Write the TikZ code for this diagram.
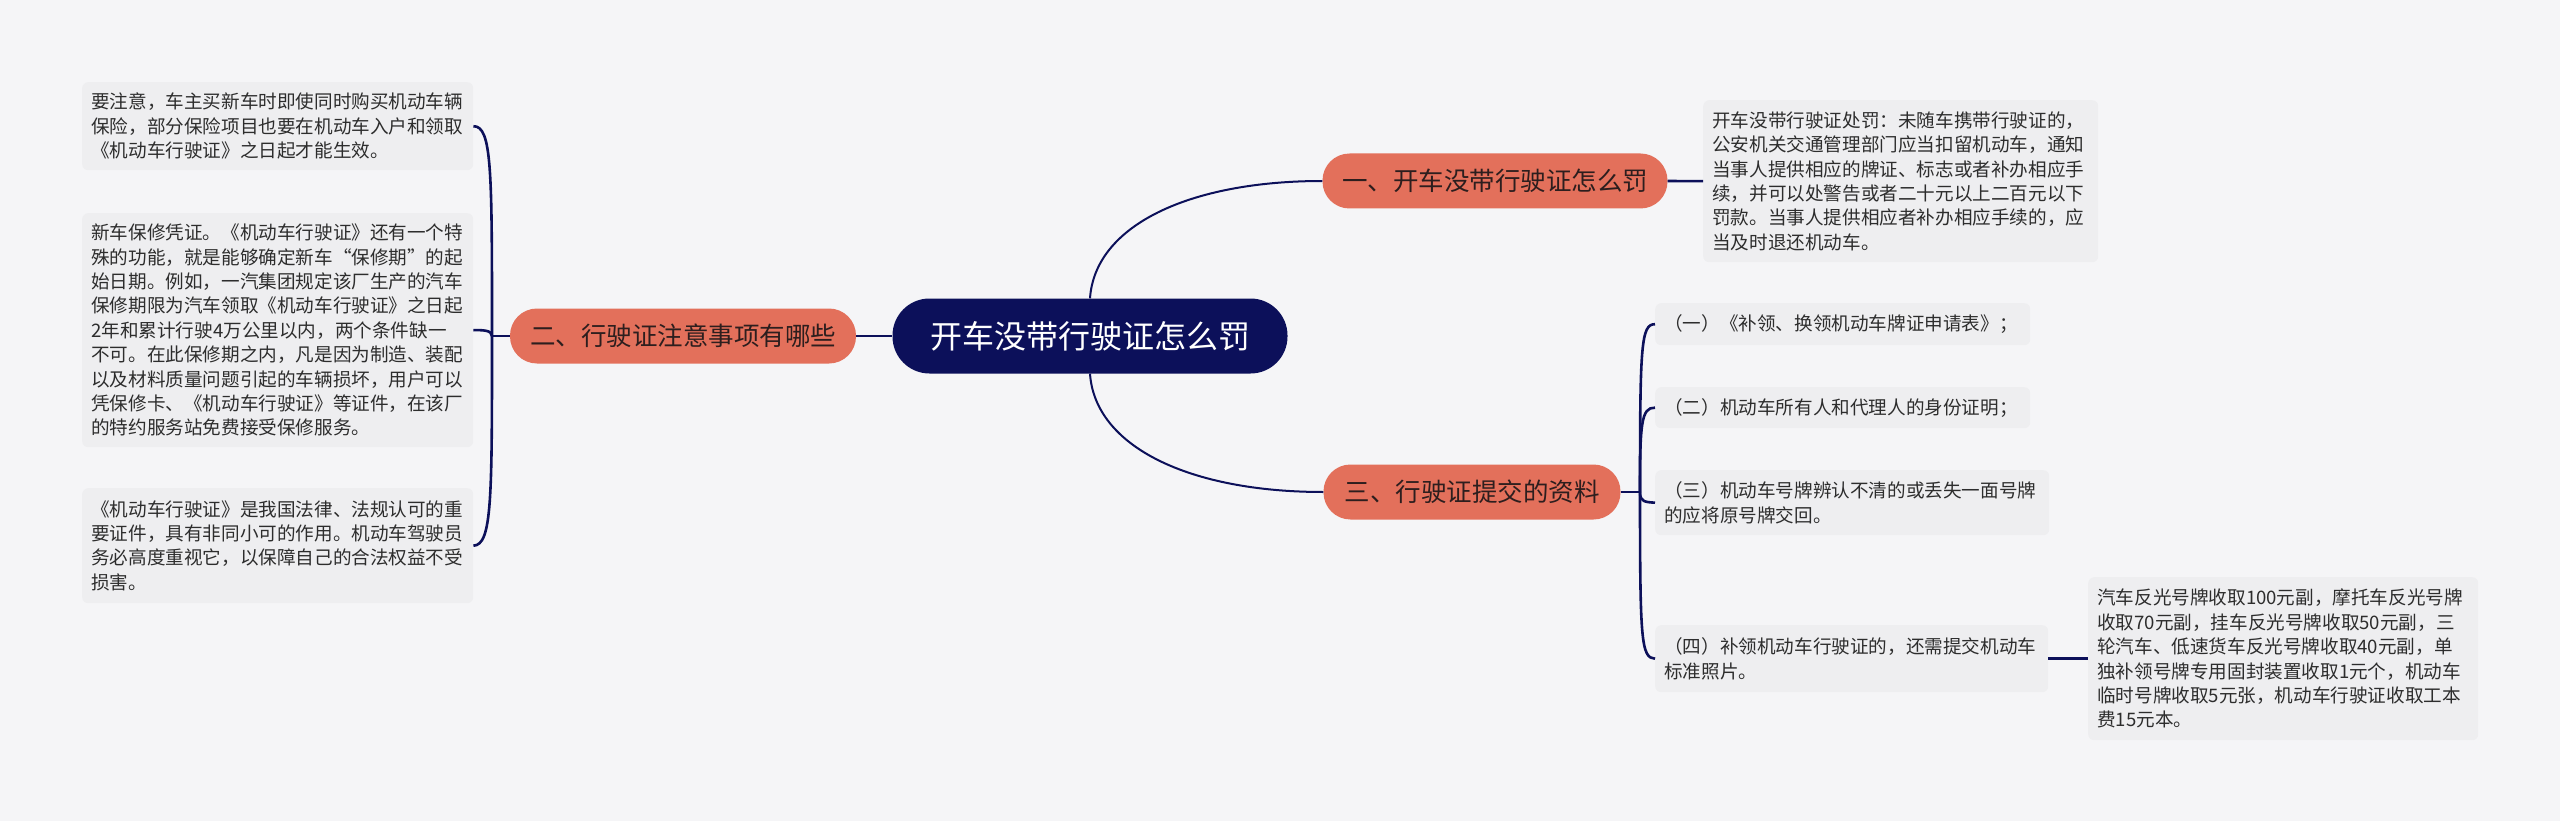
\documentclass[tikz,border=0pt]{standalone}
\usepackage{fontspec}
\setmainfont{Noto Sans CJK SC}
\definecolor{bgc}{RGB}{245,245,247}
\definecolor{leafc}{RGB}{238,238,240}
\definecolor{navy}{RGB}{12,16,90}
\definecolor{orangec}{RGB}{227,112,91}
\definecolor{btext}{RGB}{45,30,30}
\definecolor{ltext}{RGB}{45,45,45}
\tikzset{
  leafbox/.style={anchor=north west, fill=leafc, rounded corners=6pt, inner xsep=9pt, inner ysep=0pt, align=left, text=ltext, font=\fontsize{18.6}{24.4}\selectfont},
  branchbox/.style={fill=orangec, rounded corners=27pt, minimum height=55pt, inner sep=0pt, text=btext, font=\fontsize{25.5}{30}\selectfont},
  conn/.style={draw=navy, line width=2.6pt},
  thinconn/.style={draw=navy, line width=2pt}
}
\begin{document}
\begin{tikzpicture}[x=1pt,y=-1pt]
\useasboundingbox (0,0) rectangle (2560,821);
\fill[bgc] (0,0) rectangle (2560,821);

\coordinate (j2) at (492,336);
\coordinate (j3) at (1640,492);

% root
\node[fill=navy, rounded corners=37pt, minimum width=395pt, minimum height=75pt, inner sep=0pt, text=white, font=\fontsize{32}{36}\selectfont] (root) at (1090,336) {开车没带行驶证怎么罚};

% branches
\node[branchbox, minimum width=346pt] (b2) at (683,336) {二、行驶证注意事项有哪些};
\node[branchbox, minimum width=345pt] (b1) at (1495,181) {一、开车没带行驶证怎么罚};
\node[branchbox, minimum width=297pt] (b3) at (1472,492) {三、行驶证提交的资料};

% left leaves
\node[leafbox, text width=373pt, minimum height=88pt] (l1) at (82,82) {要注意，车主买新车时即使同时购买机动车辆\\保险，部分保险项目也要在机动车入户和领取\\《机动车行驶证》之日起才能生效。};
\node[leafbox, text width=373pt, minimum height=234pt] (l2) at (82,213) {新车保修凭证。《机动车行驶证》还有一个特\\殊的功能，就是能够确定新车“保修期”的起\\始日期。例如，一汽集团规定该厂生产的汽车\\保修期限为汽车领取《机动车行驶证》之日起\\2年和累计行驶4万公里以内，两个条件缺一\\不可。在此保修期之内，凡是因为制造、装配\\以及材料质量问题引起的车辆损坏，用户可以\\凭保修卡、《机动车行驶证》等证件，在该厂\\的特约服务站免费接受保修服务。};
\node[leafbox, text width=373pt, minimum height=115pt] (l3) at (82,488) {《机动车行驶证》是我国法律、法规认可的重\\要证件，具有非同小可的作用。机动车驾驶员\\务必高度重视它，以保障自己的合法权益不受\\损害。};

% right leaf of branch 1
\node[leafbox, text width=377pt, minimum height=162pt] (r1) at (1703,100) {开车没带行驶证处罚：未随车携带行驶证的，\\公安机关交通管理部门应当扣留机动车，通知\\当事人提供相应的牌证、标志或者补办相应手\\续，并可以处警告或者二十元以上二百元以下\\罚款。当事人提供相应者补办相应手续的，应\\当及时退还机动车。};

% children of branch 3
\node[leafbox, text width=357pt, minimum height=42pt] (c1) at (1655,303) {（一）《补领、换领机动车牌证申请表》；};
\node[leafbox, text width=357pt, minimum height=41pt] (c2) at (1655,387) {（二）机动车所有人和代理人的身份证明；};
\node[leafbox, text width=376pt, minimum height=65pt] (c3) at (1655,470) {（三）机动车号牌辨认不清的或丢失一面号牌\\的应将原号牌交回。};
\node[leafbox, text width=375pt, minimum height=67pt] (c4) at (1655,625) {（四）补领机动车行驶证的，还需提交机动车\\标准照片。};
\node[leafbox, text width=372pt, minimum height=163pt] (c4a) at (2088,577) {汽车反光号牌收取100元副，摩托车反光号牌\\收取70元副，挂车反光号牌收取50元副，三\\轮汽车、低速货车反光号牌收取40元副，单\\独补领号牌专用固封装置收取1元个，机动车\\临时号牌收取5元张，机动车行驶证收取工本\\费15元本。};

% connectors
\draw[thinconn] (root.north) .. controls (1095,225) and (1190,181) .. (b1.west);
\draw[thinconn] (root.south) .. controls (1095,447) and (1190,492) .. (b3.west);
\draw[conn] (b2.east) -- (root.west);
\draw[conn] (b1.east) -- (r1.west);
\draw[conn] (b2.west) -- (j2);
\draw[conn] (j2) .. controls (492,170) and (492,126) .. (l1.east);
\draw[conn] (j2) .. controls (492,330) and (482,330) .. (l2.east);
\draw[conn] (j2) .. controls (492,500) and (492,545) .. (l3.east);
\draw[conn] (b3.east) -- (j3);
\draw[conn] (j3) .. controls (1640,345) and (1641,324) .. (c1.west);
\draw[conn] (j3) .. controls (1640,425) and (1641,407) .. (c2.west);
\draw[conn] (j3) .. controls (1640,502) and (1645,502) .. (c3.west);
\draw[conn] (j3) .. controls (1640,640) and (1641,658) .. (c4.west);
\draw[conn] (c4.east) -- (c4a.west);
\end{tikzpicture}
\end{document}
